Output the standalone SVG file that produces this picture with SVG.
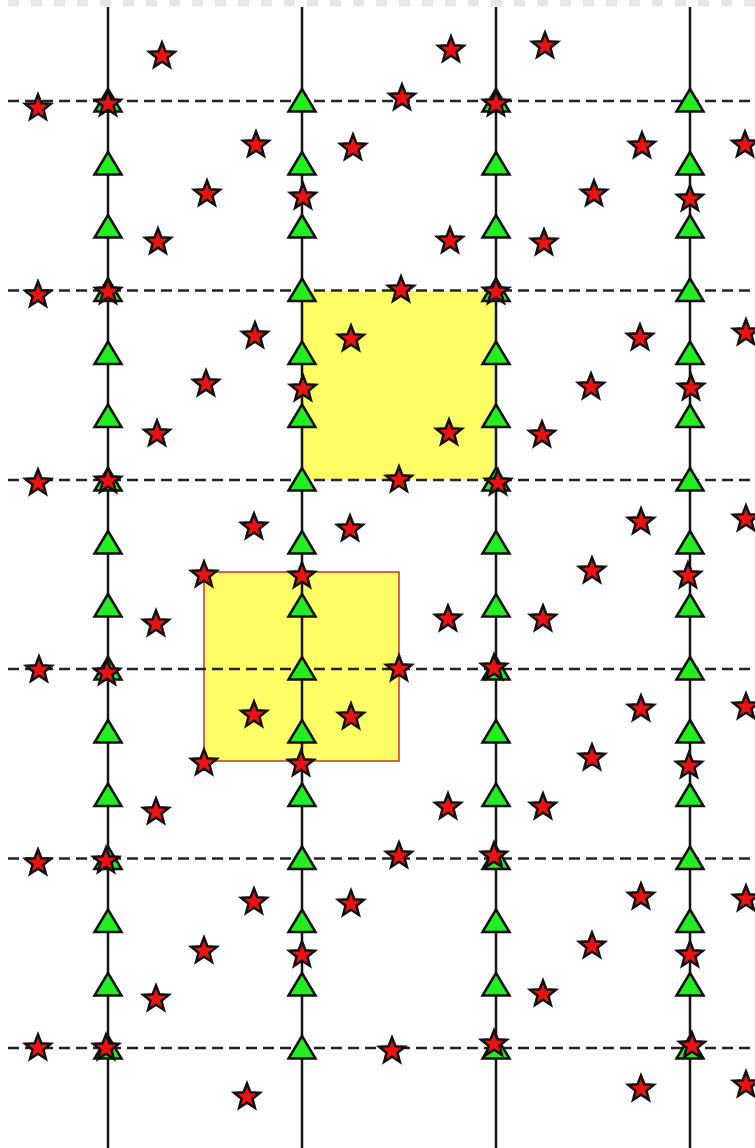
<svg xmlns="http://www.w3.org/2000/svg" xmlns:xlink="http://www.w3.org/1999/xlink" width="755" height="1148" viewBox="0 0 755 1148">
<style>
.vline{stroke:#151515;stroke-width:2.5;fill:none}
.hline{stroke:#222;stroke-width:2.5;stroke-dasharray:11 6;fill:none}
.tri{fill:#22ee22;stroke:#111;stroke-width:2.5;stroke-linejoin:miter}
.star{fill:#ee1111;stroke:#111;stroke-width:2.5;stroke-linejoin:miter}
.zone{fill:#ffff66}
</style>
<defs>
<path id="t" class="tri" d="M0,-12 L13.5,10.5 L-13.5,10.5Z"/>
<path id="s" class="star" d="M0,-13.5 L3.4,-4.7 L12.84,-4.17 L5.5,1.79 L7.94,10.92 L0,5.8 L-7.94,10.92 L-5.5,1.79 L-12.84,-4.17 L-3.4,-4.7Z"/>
</defs>
<rect width="755" height="1148" fill="#fff"/>
<line x1="8" y1="3" x2="755" y2="3" stroke="#e6e6e6" stroke-width="7" stroke-dasharray="11 12"/>
<g id="zone1"><rect class="zone" x="303" y="291" width="193" height="189"/></g>
<g id="zone2"><rect class="zone" x="204" y="572" width="195" height="189" stroke="#cc3322" stroke-width="1.5"/></g>
<g id="connectors">
<line class="vline" x1="108" y1="7" x2="108" y2="1148"/>
<line class="vline" x1="302" y1="7" x2="302" y2="1148"/>
<line class="vline" x1="496" y1="7" x2="496" y2="1148"/>
<line class="vline" x1="690" y1="7" x2="690" y2="1148"/>
<line class="hline" x1="8" y1="101" x2="755" y2="101"/>
<line class="hline" x1="8" y1="290.5" x2="755" y2="290.5"/>
<line class="hline" x1="8" y1="480" x2="755" y2="480"/>
<line class="hline" x1="8" y1="669" x2="755" y2="669"/>
<line class="hline" x1="8" y1="858.5" x2="755" y2="858.5"/>
<line class="hline" x1="8" y1="1048" x2="755" y2="1048"/>
</g>
<g id="triangles">
<g id="tri-col1">
<use href="#t" x="108" y="101"/><use href="#t" x="108" y="164"/><use href="#t" x="108" y="227"/><use href="#t" x="108" y="290.5"/><use href="#t" x="108" y="353.5"/><use href="#t" x="108" y="416.5"/><use href="#t" x="108" y="480"/><use href="#t" x="108" y="543"/><use href="#t" x="108" y="606"/><use href="#t" x="108" y="669"/><use href="#t" x="108" y="732"/><use href="#t" x="108" y="795.5"/><use href="#t" x="108" y="858.5"/><use href="#t" x="108" y="921.5"/><use href="#t" x="108" y="985"/><use href="#t" x="108" y="1048"/>
</g>
<g id="tri-col2">
<use href="#t" x="302" y="101"/><use href="#t" x="302" y="164"/><use href="#t" x="302" y="227"/><use href="#t" x="302" y="290.5"/><use href="#t" x="302" y="353.5"/><use href="#t" x="302" y="416.5"/><use href="#t" x="302" y="480"/><use href="#t" x="302" y="543"/><use href="#t" x="302" y="606"/><use href="#t" x="302" y="669"/><use href="#t" x="302" y="732"/><use href="#t" x="302" y="795.5"/><use href="#t" x="302" y="858.5"/><use href="#t" x="302" y="921.5"/><use href="#t" x="302" y="985"/><use href="#t" x="302" y="1048"/>
</g>
<g id="tri-col3">
<use href="#t" x="496" y="101"/><use href="#t" x="496" y="164"/><use href="#t" x="496" y="227"/><use href="#t" x="496" y="290.5"/><use href="#t" x="496" y="353.5"/><use href="#t" x="496" y="416.5"/><use href="#t" x="496" y="480"/><use href="#t" x="496" y="543"/><use href="#t" x="496" y="606"/><use href="#t" x="496" y="669"/><use href="#t" x="496" y="732"/><use href="#t" x="496" y="795.5"/><use href="#t" x="496" y="858.5"/><use href="#t" x="496" y="921.5"/><use href="#t" x="496" y="985"/><use href="#t" x="496" y="1048"/>
</g>
<g id="tri-col4">
<use href="#t" x="690" y="101"/><use href="#t" x="690" y="164"/><use href="#t" x="690" y="227"/><use href="#t" x="690" y="290.5"/><use href="#t" x="690" y="353.5"/><use href="#t" x="690" y="416.5"/><use href="#t" x="690" y="480"/><use href="#t" x="690" y="543"/><use href="#t" x="690" y="606"/><use href="#t" x="690" y="669"/><use href="#t" x="690" y="732"/><use href="#t" x="690" y="795.5"/><use href="#t" x="690" y="858.5"/><use href="#t" x="690" y="921.5"/><use href="#t" x="690" y="985"/><use href="#t" x="690" y="1048"/>
</g>
</g>
<g id="stars">
<g id="stars-band1">
<use href="#s" x="162" y="56"/><use href="#s" x="38" y="108"/><use href="#s" x="108" y="104"/><use href="#s" x="256" y="145"/><use href="#s" x="353" y="148"/><use href="#s" x="207" y="194"/><use href="#s" x="303" y="197"/><use href="#s" x="158" y="242"/><use href="#s" x="451" y="50"/><use href="#s" x="545" y="46"/><use href="#s" x="402" y="98"/><use href="#s" x="496" y="104"/><use href="#s" x="642" y="146"/><use href="#s" x="745" y="145"/><use href="#s" x="594" y="194"/><use href="#s" x="690" y="199"/><use href="#s" x="450" y="241"/><use href="#s" x="544" y="243"/>
</g>
<g id="stars-band2">
<use href="#s" x="38" y="295"/><use href="#s" x="108" y="292"/><use href="#s" x="401" y="290"/><use href="#s" x="496" y="292"/><use href="#s" x="255" y="336"/><use href="#s" x="351" y="339"/><use href="#s" x="206" y="384"/><use href="#s" x="303" y="389"/><use href="#s" x="157" y="434"/><use href="#s" x="640" y="338"/><use href="#s" x="746" y="333"/><use href="#s" x="591" y="387"/><use href="#s" x="691" y="388"/><use href="#s" x="449" y="433"/><use href="#s" x="542" y="435"/><use href="#s" x="38" y="483"/><use href="#s" x="108" y="481"/><use href="#s" x="399" y="480"/><use href="#s" x="498" y="483"/><use href="#s" x="254" y="527"/><use href="#s" x="350" y="529"/><use href="#s" x="641" y="522"/><use href="#s" x="746" y="519"/>
</g>
<g id="stars-band3">
<use href="#s" x="204" y="575"/><use href="#s" x="302" y="576"/><use href="#s" x="592" y="571"/><use href="#s" x="688" y="576"/><use href="#s" x="156" y="624"/><use href="#s" x="448" y="619"/><use href="#s" x="543" y="619"/><use href="#s" x="39" y="670"/><use href="#s" x="107" y="673"/><use href="#s" x="399" y="669"/><use href="#s" x="494" y="668"/><use href="#s" x="254" y="715"/><use href="#s" x="351" y="717"/><use href="#s" x="641" y="709"/><use href="#s" x="746" y="707"/><use href="#s" x="204" y="763"/><use href="#s" x="301" y="764"/><use href="#s" x="592" y="758"/><use href="#s" x="689" y="766"/><use href="#s" x="156" y="812"/><use href="#s" x="448" y="807"/><use href="#s" x="543" y="807"/>
</g>
<g id="stars-band4">
<use href="#s" x="38" y="863"/><use href="#s" x="106" y="861"/><use href="#s" x="399" y="856"/><use href="#s" x="494" y="856"/><use href="#s" x="254" y="902"/><use href="#s" x="351" y="904"/><use href="#s" x="641" y="897"/><use href="#s" x="746" y="899"/><use href="#s" x="204" y="951"/><use href="#s" x="302" y="955"/><use href="#s" x="592" y="946"/><use href="#s" x="690" y="955"/><use href="#s" x="156" y="999"/><use href="#s" x="543" y="994"/><use href="#s" x="38" y="1048"/><use href="#s" x="106" y="1048"/><use href="#s" x="392" y="1051"/><use href="#s" x="494" y="1044"/><use href="#s" x="692" y="1046"/><use href="#s" x="247" y="1097"/><use href="#s" x="641" y="1089"/><use href="#s" x="746" y="1085"/>
</g>
</g>
</svg>
